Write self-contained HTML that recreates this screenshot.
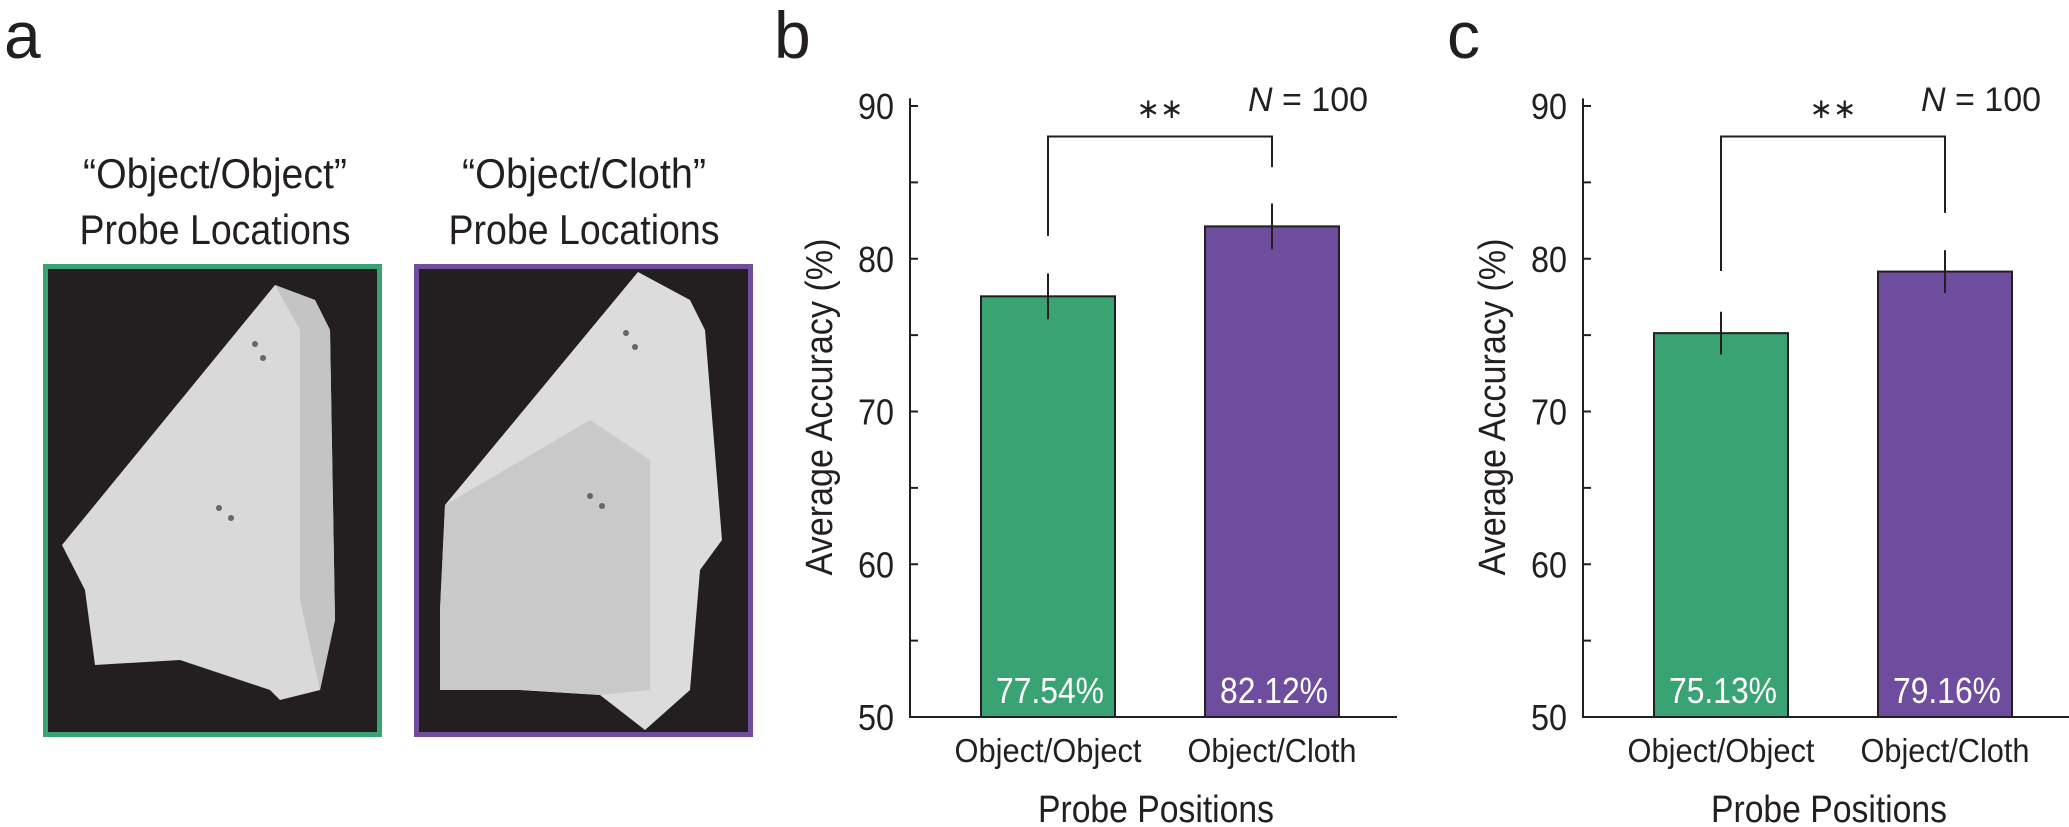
<!DOCTYPE html>
<html><head><meta charset="utf-8"><style>
html,body{margin:0;padding:0;background:#fff;}
svg{display:block;font-family:"Liberation Sans",sans-serif;}
</style></head><body>
<svg id="fig" width="2069" height="827" viewBox="0 0 2069 827" xmlns="http://www.w3.org/2000/svg">
<g>
  <text x="4" y="58" font-size="66" fill="#231f20">a</text>
  <text x="215" y="188" font-size="42" text-anchor="middle" textLength="264" lengthAdjust="spacingAndGlyphs" fill="#231f20">“Object/Object”</text>
  <text x="215" y="244" font-size="42" text-anchor="middle" textLength="271" lengthAdjust="spacingAndGlyphs" fill="#231f20">Probe Locations</text>
  <text x="584" y="188" font-size="42" text-anchor="middle" textLength="244" lengthAdjust="spacingAndGlyphs" fill="#231f20">“Object/Cloth”</text>
  <text x="584" y="244" font-size="42" text-anchor="middle" textLength="271" lengthAdjust="spacingAndGlyphs" fill="#231f20">Probe Locations</text>
  <g>
    <rect x="45.5" y="266.5" width="334" height="468" fill="#231f20" stroke="#3aa374" stroke-width="5"/>
    <polygon points="62,545 275,285 315,300 330,330 335,620 320,690 280,700 270,690 180,660 95,665 85,590" fill="#d9d9d9"/>
    <polygon points="275,285 315,300 330,330 335,620 320,690 300,600 300,330" fill="#c4c4c4"/>
    <circle cx="255" cy="344" r="3" fill="#666"/><circle cx="263" cy="358" r="3" fill="#666"/>
    <circle cx="219" cy="508" r="3" fill="#666"/><circle cx="231" cy="518" r="3" fill="#666"/>
  </g>
  <g>
    <rect x="416.5" y="266.5" width="334" height="468" fill="#231f20" stroke="#6e4c9e" stroke-width="5"/>
    <polygon points="445,505 638,272 690,300 705,330 722,540 700,570 690,690 645,730 600,695 520,690 440,690 440,610" fill="#dcdcdc"/>
    <polygon points="445,505 590,420 650,460 650,690 600,695 520,690 440,690 440,610" fill="#c9c9c9"/>
    <circle cx="626" cy="333" r="3" fill="#666"/><circle cx="635" cy="347" r="3" fill="#666"/>
    <circle cx="590" cy="496" r="3" fill="#666"/><circle cx="602" cy="506" r="3" fill="#666"/>
  </g>
</g>
<g id="chartB"></g>
<g id="chartC"></g>
</svg>
<script>
const categories = ["Object/Object", "Object/Cloth"];
const valuesB = [77.54, 82.12];
const errorsB = [1.5, 1.5];
const valuesC = [75.13, 79.16];
const errorsC = [1.4, 1.4];
const yTicks = [50, 60, 70, 80, 90];
const yMinorTicks = [55, 65, 75, 85];
const bracketLeftB = 81.5, bracketRightB = 86, bracketTopB = 88;
const bracketLeftC = 79.2, bracketRightC = 83, bracketTopC = 88;

const NS = "http://www.w3.org/2000/svg";
function mk(parent, tag, attrs, text) {
  const e = document.createElementNS(NS, tag);
  for (const k in attrs) e.setAttribute(k, attrs[k]);
  if (text !== undefined) e.textContent = text;
  parent.appendChild(e);
  return e;
}
function drawPanel(gid, ox, letter, values, errors, bl, br, bt) {
  const g = document.getElementById(gid);
  const axisX = ox, axisEnd = ox + 487;
  const y = v => 717 - (v - 50) * (611 / 40);
  const centers = [ox + 138, ox + 362];
  const barW = 134;
  const colors = ["#3aa374", "#6e4c9e"];
  let t = mk(g, "text", {x: ox - 136, y: 58, "font-size": 66, fill: "#231f20"}, letter);
  
  
  values.forEach((v, i) => {
    const r = mk(g, "rect", {x: centers[i] - barW / 2, y: y(v), width: barW, height: y(50) - y(v), fill: colors[i], stroke: "#231f20", "stroke-width": 2});
    
    
    const e = mk(g, "line", {x1: centers[i], x2: centers[i], y1: y(v + errors[i]), y2: y(v - errors[i]), stroke: "#231f20", "stroke-width": 2});
    
    
    const l = mk(g, "text", {x: centers[i] + 2, y: 703, "font-size": 36, fill: "#fff", "text-anchor": "middle", textLength: 108, lengthAdjust: "spacingAndGlyphs"}, v.toFixed(2) + "%");
    
    
    const c = mk(g, "text", {x: centers[i], y: 762, "font-size": 33, fill: "#231f20", "text-anchor": "middle", textLength: i === 0 ? 187 : 169, lengthAdjust: "spacingAndGlyphs"}, categories[i]);
    
    
  });
  const ax = mk(g, "path", {d: `M${axisX} ${y(90.5)} V${y(50)} H${axisEnd}`, fill: "none", stroke: "#231f20", "stroke-width": 2});
  
  
  yTicks.concat(yMinorTicks).forEach(v => {
    const tk = mk(g, "line", {x1: axisX, x2: axisX + 8, y1: y(v), y2: y(v), stroke: "#231f20", "stroke-width": 2});
    
    
  });
  yTicks.forEach(v => {
    const tl = mk(g, "text", {x: axisX - 16, y: y(v) + 13, "font-size": 36, fill: "#231f20", "text-anchor": "end", textLength: 36, lengthAdjust: "spacingAndGlyphs"}, String(v));
    
    
  });
  const yt = mk(g, "text", {x: 0, y: 0, "font-size": 38, fill: "#231f20", "text-anchor": "middle", textLength: 337, lengthAdjust: "spacingAndGlyphs", transform: `translate(${ox - 78},407) rotate(-90)`}, "Average Accuracy (%)");
  
  
  const xt = mk(g, "text", {x: ox + 246, y: 822, "font-size": 38, fill: "#231f20", "text-anchor": "middle", textLength: 236, lengthAdjust: "spacingAndGlyphs"}, "Probe Positions");
  
  
  const br1 = mk(g, "path", {d: `M${centers[0]} ${y(bl)} V${y(bt)} H${centers[1]} V${y(br)}`, fill: "none", stroke: "#231f20", "stroke-width": 2});
  
  
  const st = mk(g, "text", {x: ox + 250, y: 118, "font-size": 28, fill: "#231f20", "text-anchor": "middle"}, "∗∗");
  
  
  const n = mk(g, "text", {x: ox + 338, y: 111, "font-size": 34, fill: "#231f20"});
  
  
  mk(n, "tspan", {"font-style": "italic"}, "N");
  mk(n, "tspan", {}, " = 100");
}
drawPanel("chartB", 910, "b", valuesB, errorsB, bracketLeftB, bracketRightB, bracketTopB);
drawPanel("chartC", 1583, "c", valuesC, errorsC, bracketLeftC, bracketRightC, bracketTopC);
</script>
</body></html>
